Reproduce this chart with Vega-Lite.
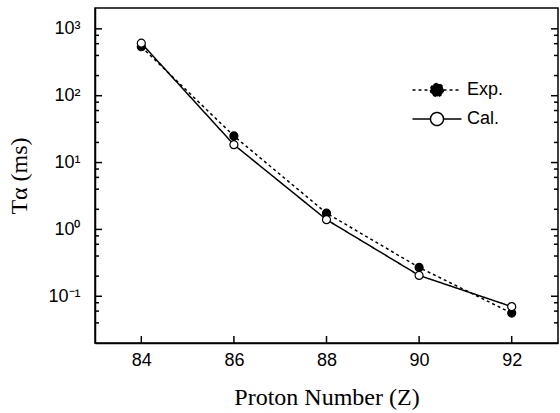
{
  "$schema": "https://vega.github.io/schema/vega-lite/v6.json",
  "width": 463,
  "height": 335,
  "autosize": "none",
  "padding": {"left": 95, "top": 8, "right": 2, "bottom": 70},
  "background": "white",
  "config": {
    "view": {"stroke": "black", "strokeWidth": 1.5},
    "axis": {
      "grid": false,
      "ticks": false,
      "tickSize": 0,
      "domainColor": "black",
      "domainWidth": 1.5,
      "labelFont": "Liberation Sans",
      "labelFontSize": 18,
      "labelColor": "black",
      "titleFont": "Liberation Serif",
      "titleFontSize": 24,
      "titleFontWeight": "normal",
      "titleColor": "black"
    },
    "legend": {
      "title": null,
      "orient": "none",
      "legendX": 333,
      "legendY": 73,
      "padding": 0,
      "symbolType": "M-3.77,0H-1M1,0H3.77M-1,0A1,1 0 1,0 1,0A1,1 0 1,0 -1,0Z",
      "symbolSize": 169,
      "symbolStrokeColor": "black",
      "symbolStrokeWidth": 1.5,
      "labelOffset": 21,
      "labelFont": "Liberation Sans",
      "labelFontSize": 18,
      "labelColor": "black",
      "rowPadding": 9
    }
  },
  "datasets": {
    "main": [
      {"Z": 84, "T": 540, "series": "Exp."},
      {"Z": 86, "T": 25, "series": "Exp."},
      {"Z": 88, "T": 1.75, "series": "Exp."},
      {"Z": 90, "T": 0.27, "series": "Exp."},
      {"Z": 92, "T": 0.056, "series": "Exp."},
      {"Z": 84, "T": 610, "series": "Cal."},
      {"Z": 86, "T": 18.5, "series": "Cal."},
      {"Z": 88, "T": 1.4, "series": "Cal."},
      {"Z": 90, "T": 0.205, "series": "Cal."},
      {"Z": 92, "T": 0.07, "series": "Cal."}
    ],
    "yticks": [
      {"v": 0.04, "major": false}, {"v": 0.06, "major": false}, {"v": 0.08, "major": false}, {"v": 0.1, "major": true},
      {"v": 0.2, "major": false}, {"v": 0.4, "major": false}, {"v": 0.6, "major": false}, {"v": 0.8, "major": false}, {"v": 1, "major": true},
      {"v": 2, "major": false}, {"v": 4, "major": false}, {"v": 6, "major": false}, {"v": 8, "major": false}, {"v": 10, "major": true},
      {"v": 20, "major": false}, {"v": 40, "major": false}, {"v": 60, "major": false}, {"v": 80, "major": false}, {"v": 100, "major": true},
      {"v": 200, "major": false}, {"v": 400, "major": false}, {"v": 600, "major": false}, {"v": 800, "major": false}, {"v": 1000, "major": true}
    ],
    "xticks": [
      {"z": 84}, {"z": 86}, {"z": 88}, {"z": 90}, {"z": 92}
    ]
  },
  "layer": [
    {
      "data": {"name": "main"},
      "mark": {"type": "line", "color": "black", "strokeWidth": 1.5},
      "encoding": {
        "x": {
          "field": "Z", "type": "quantitative",
          "title": "Proton Number (Z)",
          "scale": {"domain": [83, 93], "nice": false, "zero": false},
          "axis": {
            "title": "Proton Number (Z)",
            "values": [84, 86, 88, 90, 92],
            "labelPadding": 8,
            "titlePadding": 16
          }
        },
        "y": {
          "field": "T", "type": "quantitative",
          "title": "Tα (ms)",
          "scale": {"type": "log", "domain": [0.02, 2050], "nice": false},
          "axis": {
            "title": "Tα (ms)",
            "values": [0.1, 1, 10, 100, 1000],
            "labelExpr": "datum.value == 1000 ? '10³' : datum.value == 100 ? '10²' : datum.value == 10 ? '10¹' : datum.value == 1 ? '10⁰' : datum.value == 0.1 ? '10⁻¹' : ''",
            "labelPadding": 15,
            "titlePadding": 16
          }
        },
        "strokeDash": {
          "field": "series", "type": "nominal",
          "scale": {"domain": ["Exp.", "Cal."], "range": [[3, 3], [1, 0]]}
        }
      }
    },
    {
      "data": {"name": "main"},
      "mark": {"type": "point", "filled": true, "size": 64, "stroke": "black", "strokeWidth": 1.2, "opacity": 1},
      "encoding": {
        "x": {"field": "Z", "type": "quantitative", "title": "Proton Number (Z)"},
        "y": {"field": "T", "type": "quantitative", "title": "Tα (ms)"},
        "fill": {
          "field": "series", "type": "nominal",
          "scale": {"domain": ["Exp.", "Cal."], "range": ["black", "white"]}
        }
      }
    },
    {
      "data": {"name": "yticks"},
      "transform": [{"filter": "datum.major"}],
      "mark": {"type": "tick", "orient": "horizontal", "color": "black", "size": 7, "thickness": 1.5, "xOffset": 3.5, "opacity": 1},
      "encoding": {
        "x": {"datum": 83},
        "y": {"field": "v", "type": "quantitative", "title": "Tα (ms)"}
      }
    },
    {
      "data": {"name": "yticks"},
      "transform": [{"filter": "!datum.major"}],
      "mark": {"type": "tick", "orient": "horizontal", "color": "black", "size": 4, "thickness": 1.5, "xOffset": 2, "opacity": 1},
      "encoding": {
        "x": {"datum": 83},
        "y": {"field": "v", "type": "quantitative", "title": "Tα (ms)"}
      }
    },
    {
      "data": {"name": "yticks"},
      "transform": [{"filter": "datum.major"}],
      "mark": {"type": "tick", "orient": "horizontal", "color": "black", "size": 7, "thickness": 1.5, "xOffset": -3.5, "opacity": 1},
      "encoding": {
        "x": {"datum": 93},
        "y": {"field": "v", "type": "quantitative", "title": "Tα (ms)"}
      }
    },
    {
      "data": {"name": "yticks"},
      "transform": [{"filter": "!datum.major"}],
      "mark": {"type": "tick", "orient": "horizontal", "color": "black", "size": 4, "thickness": 1.5, "xOffset": -2, "opacity": 1},
      "encoding": {
        "x": {"datum": 93},
        "y": {"field": "v", "type": "quantitative", "title": "Tα (ms)"}
      }
    },
    {
      "data": {"name": "xticks"},
      "mark": {"type": "tick", "orient": "vertical", "color": "black", "size": 7, "thickness": 1.5, "yOffset": -3.5, "opacity": 1},
      "encoding": {
        "x": {"field": "z", "type": "quantitative", "title": "Proton Number (Z)"},
        "y": {"datum": 0.02}
      }
    }
  ]
}
